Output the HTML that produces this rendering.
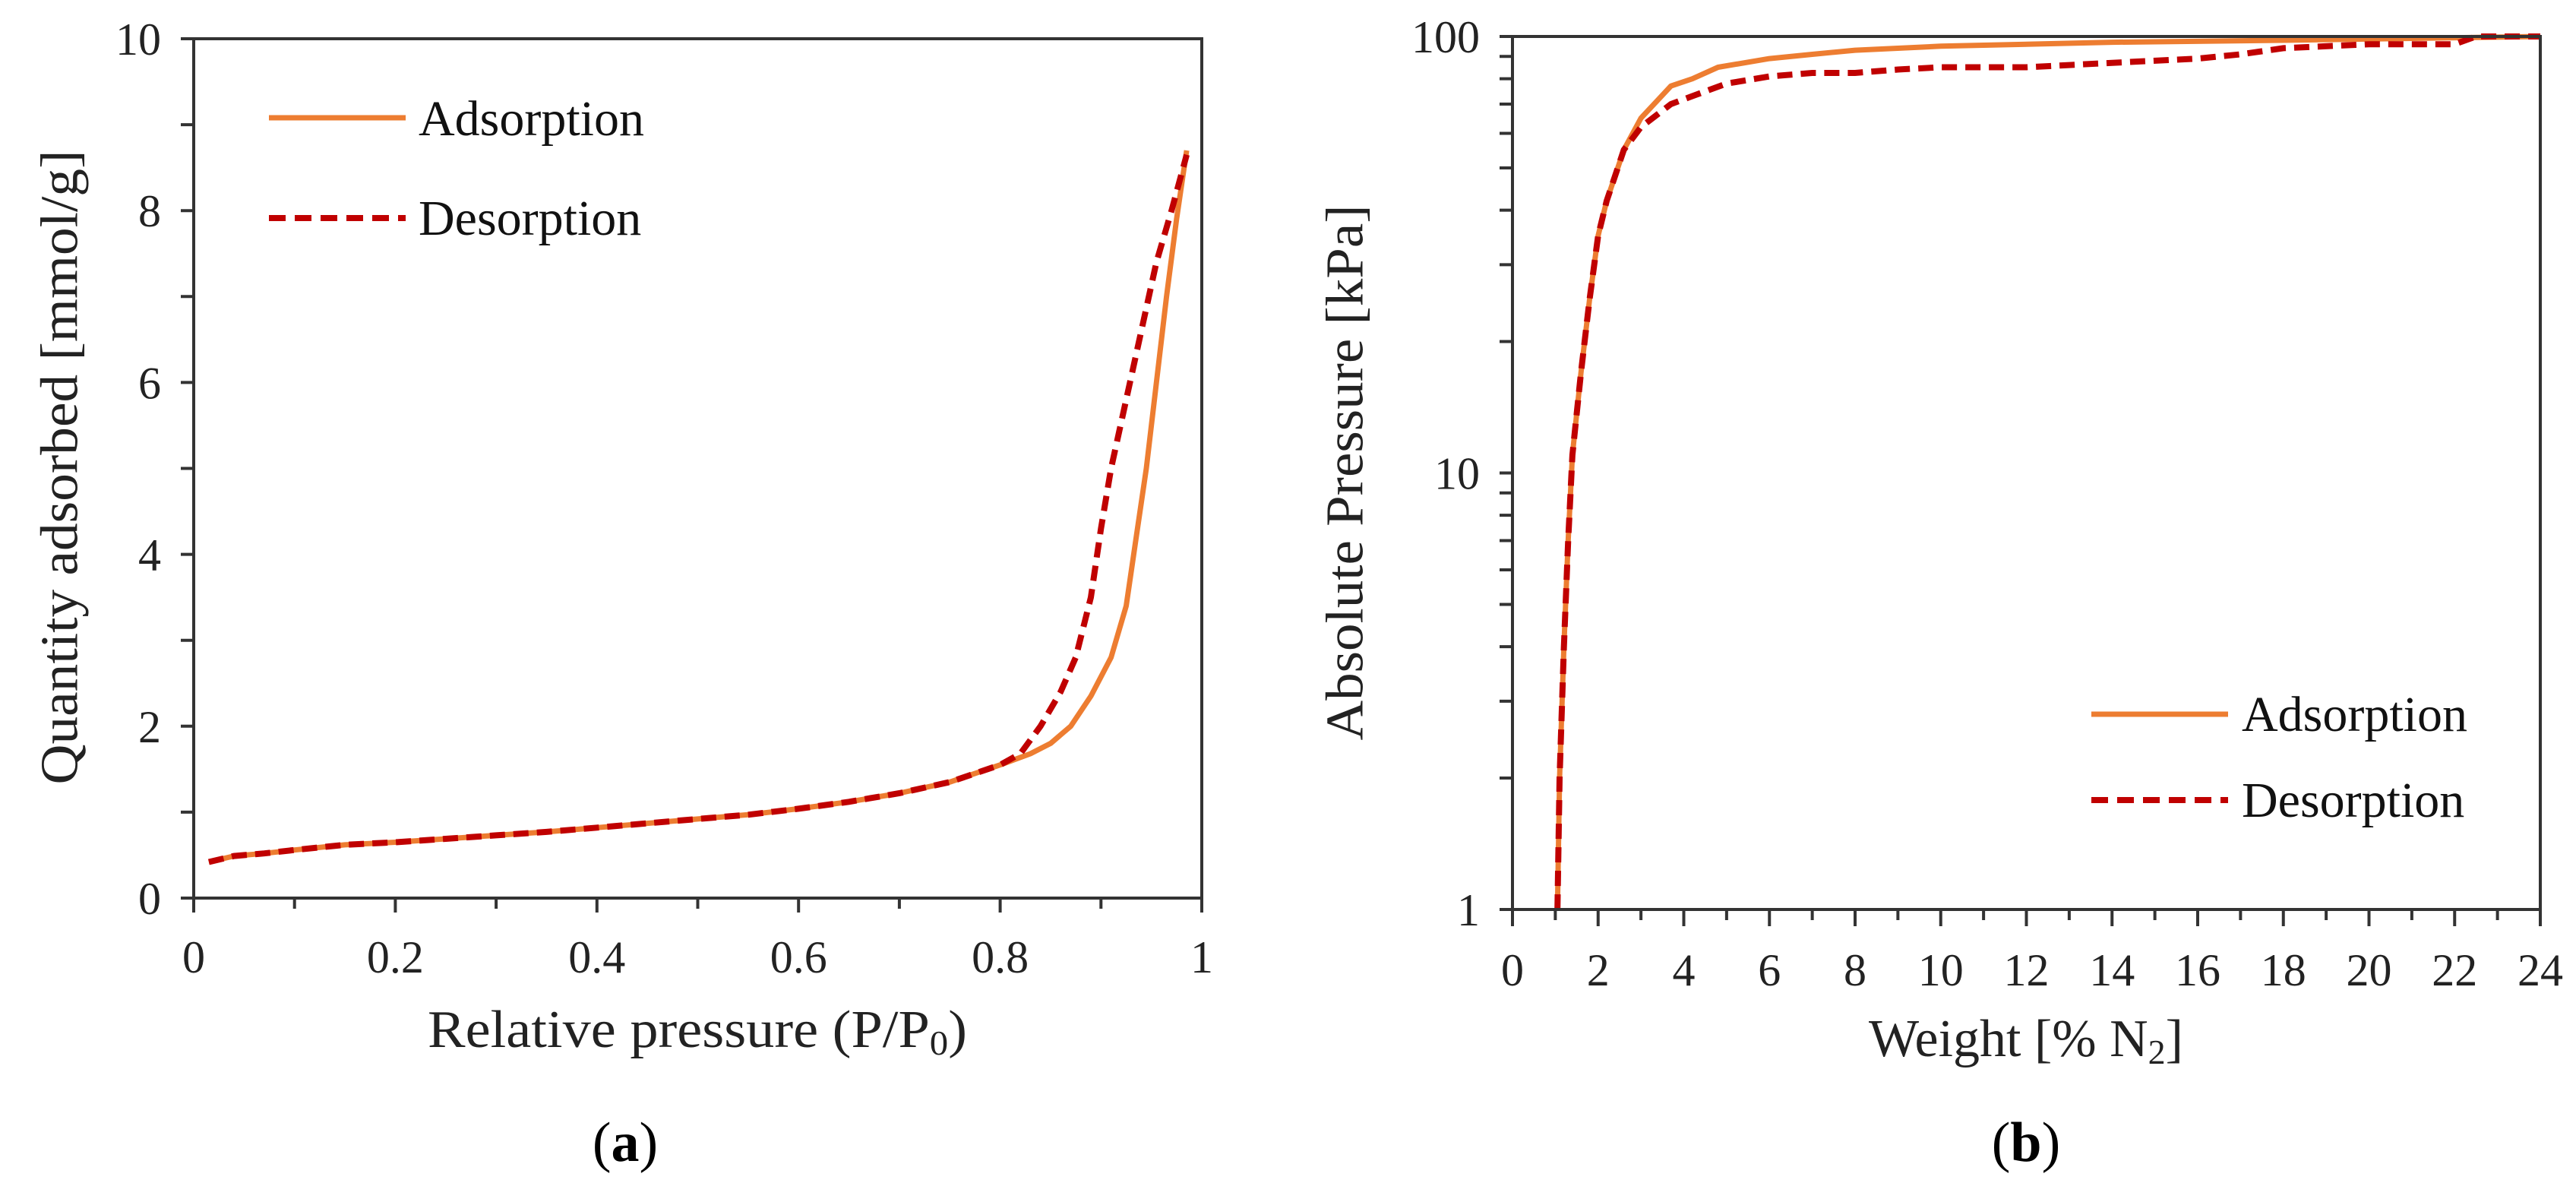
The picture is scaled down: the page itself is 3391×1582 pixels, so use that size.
<!DOCTYPE html>
<html><head><meta charset="utf-8"><style>
html,body{margin:0;padding:0;background:#fff;}
svg{display:block;font-family:"Liberation Serif",serif;}
</style></head><body>
<svg id="fig" width="3391" height="1582" viewBox="0 0 3391 1582" xmlns="http://www.w3.org/2000/svg">
<rect width="3391" height="1582" fill="#fff"/>
<g id="pa"></g>
<g id="pb"></g>
<text x="79" y="615" transform="rotate(-90 79 615)" text-anchor="middle" dominant-baseline="central" font-size="70" textLength="835" lengthAdjust="spacingAndGlyphs" fill="#222">Quantity adsorbed [mmol/g]</text>
<text x="918" y="1378" text-anchor="middle" font-size="70" textLength="710" lengthAdjust="spacingAndGlyphs" fill="#222">Relative pressure (P/P<tspan font-size="46" dy="10">0</tspan><tspan dy="-10">)</tspan></text>
<text x="823" y="1528" text-anchor="middle" font-size="74" fill="#000">(<tspan font-weight="bold">a</tspan>)</text>
<text x="1771" y="622" transform="rotate(-90 1771 622)" text-anchor="middle" dominant-baseline="central" font-size="70" textLength="705" lengthAdjust="spacingAndGlyphs" fill="#222">Absolute Pressure [kPa]</text>
<text x="2667" y="1390" text-anchor="middle" font-size="70" fill="#222">Weight [% N<tspan font-size="46" dy="10">2</tspan><tspan dy="-10">]</tspan></text>
<text x="2667" y="1528" text-anchor="middle" font-size="74" fill="#000">(<tspan font-weight="bold">b</tspan>)</text>
</svg>
<script>
// Panel A data
const aAdsX = [0.015,0.04,0.07,0.1,0.15,0.2,0.25,0.3,0.35,0.4,0.45,0.5,0.55,0.6,0.65,0.7,0.75,0.8,0.83,0.85,0.87,0.89,0.91,0.925,0.935,0.945,0.955,0.965,0.975,0.985];
const aAdsY = [0.42,0.49,0.52,0.56,0.62,0.65,0.69,0.73,0.77,0.82,0.87,0.92,0.97,1.04,1.12,1.22,1.35,1.55,1.68,1.8,2.0,2.35,2.8,3.4,4.2,5.0,6.0,7.0,7.9,8.7];
const aDesX = [0.015,0.04,0.07,0.1,0.15,0.2,0.25,0.3,0.35,0.4,0.45,0.5,0.55,0.6,0.65,0.7,0.75,0.8,0.82,0.84,0.86,0.875,0.89,0.9,0.91,0.925,0.94,0.955,0.97,0.985];
const aDesY = [0.42,0.49,0.52,0.56,0.62,0.65,0.69,0.73,0.77,0.82,0.87,0.92,0.97,1.04,1.12,1.22,1.35,1.55,1.68,2.0,2.4,2.8,3.5,4.3,5.0,5.8,6.6,7.4,8.0,8.65];
const aXTicks = ["0","0.2","0.4","0.6","0.8","1"];
const aYTicks = ["0","2","4","6","8","10"];
// Panel B data
const bAdsX = [1.05,1.1,1.2,1.3,1.4,1.6,1.8,2.0,2.2,2.6,3.0,3.7,4.2,4.8,6,7,8,10,14,18,24];
const bAdsY = [1,2,4,7,11,17,25,35,42,55,65,77,80,85,89,91,93,95,97,98,100];
const bDesX = [1.05,1.1,1.2,1.3,1.4,1.6,1.8,2.0,2.2,2.6,3,3.7,4.2,5,6,7,8,9,10,12,13,14,16,17,18,20,22,22.5,24];
const bDesY = [1,2,4,7,11,17,25,35,42,55,62,70,73,78,81,82.5,82.5,84,85,85,86,87,89,91,94,96,96,100,100];
const bXTicks = ["0","2","4","6","8","10","12","14","16","18","20","22","24"];
const bYTicks = ["1","10","100"];

const NS="http://www.w3.org/2000/svg";
function mk(parent,tag,attrs){const e=document.createElementNS(NS,tag);for(const k in attrs)e.setAttribute(k,attrs[k]);parent.appendChild(e);return e;}
const AX="#333";

// Panel A
const A={l:255,r:1582,t:51,b:1182};
const axX=v=>A.l+v*(A.r-A.l);
const axY=v=>A.b-v/10*(A.b-A.t);
const pa=document.getElementById('pa');
for(let i=0;i<=10;i++){const x=axX(i/10);const t=mk(pa,'line',{x1:x,x2:x,y1:A.b,y2:A.b+(i%2?14:19),stroke:AX,'stroke-width':4});

}
for(let i=0;i<=10;i++){const y=axY(i);const t=mk(pa,'line',{x1:A.l-17,x2:A.l,y1:y,y2:y,stroke:AX,'stroke-width':4});

}
aXTicks.forEach((s,i)=>{const t=mk(pa,'text',{x:axX(parseFloat(s)),y:1280,'text-anchor':'middle','font-size':60,fill:'#222'});t.textContent=s;

});
aYTicks.forEach(s=>{const t=mk(pa,'text',{x:A.l-43,y:axY(parseFloat(s))+21,'text-anchor':'end','font-size':60,fill:'#222'});t.textContent=s;

});
function pts(xs,ys,fx,fy){return xs.map((x,i)=>fx(x).toFixed(1)+','+fy(ys[i]).toFixed(1)).join(' ');}
const la=mk(pa,'polyline',{points:pts(aAdsX,aAdsY,axX,axY),fill:'none',stroke:'#ED7D31','stroke-width':7,'stroke-linejoin':'round'});


const ld=mk(pa,'polyline',{points:pts(aDesX,aDesY,axX,axY),fill:'none',stroke:'#C00000','stroke-width':8,'stroke-dasharray':'20 11'});


const fa=mk(pa,'rect',{x:A.l,y:A.t,width:A.r-A.l,height:A.b-A.t,fill:'none',stroke:AX,'stroke-width':4});


// legend A
const lg1=mk(pa,'line',{x1:354,x2:534,y1:155,y2:155,stroke:'#ED7D31','stroke-width':7});


const lt1=mk(pa,'text',{x:551,y:178,'font-size':66,fill:'#111'});lt1.textContent='Adsorption';


const lg2=mk(pa,'line',{x1:354,x2:534,y1:287,y2:287,stroke:'#C00000','stroke-width':8,'stroke-dasharray':'22 12'});


const lt2=mk(pa,'text',{x:551,y:309,'font-size':66,fill:'#111'});lt2.textContent='Desorption';



// Panel B
const B={l:1991,r:3344,t:48,b:1197};
const bxX=v=>B.l+v/24*(B.r-B.l);
const byY=v=>B.b-Math.log10(v)/2*(B.b-B.t);
const pb=document.getElementById('pb');
for(let i=0;i<=24;i++){const x=bxX(i);const t=mk(pb,'line',{x1:x,x2:x,y1:B.b,y2:B.b+(i%2?14:22),stroke:AX,'stroke-width':4});

}
for(let d=0;d<2;d++){for(let m=1;m<=10;m++){const y=byY(Math.pow(10,d)*m);const t=mk(pb,'line',{x1:B.l-17,x2:B.l,y1:y,y2:y,stroke:AX,'stroke-width':4});

}}
bXTicks.forEach(s=>{const t=mk(pb,'text',{x:bxX(parseFloat(s)),y:1297,'text-anchor':'middle','font-size':60,fill:'#222'});t.textContent=s;

});
bYTicks.forEach(s=>{const t=mk(pb,'text',{x:B.l-43,y:byY(parseFloat(s))+21,'text-anchor':'end','font-size':60,fill:'#222'});t.textContent=s;

});
const lb=mk(pb,'polyline',{points:pts(bAdsX,bAdsY,bxX,byY),fill:'none',stroke:'#ED7D31','stroke-width':7,'stroke-linejoin':'round'});


const ldb=mk(pb,'polyline',{points:pts(bDesX,bDesY,bxX,byY),fill:'none',stroke:'#C00000','stroke-width':8,'stroke-dasharray':'20 11'});


const fb=mk(pb,'rect',{x:B.l,y:B.t,width:B.r-B.l,height:B.b-B.t,fill:'none',stroke:AX,'stroke-width':4});


const lg3=mk(pb,'line',{x1:2753,x2:2933,y1:940,y2:940,stroke:'#ED7D31','stroke-width':7});


const lt3=mk(pb,'text',{x:2951,y:962,'font-size':66,fill:'#111'});lt3.textContent='Adsorption';


const lg4=mk(pb,'line',{x1:2753,x2:2933,y1:1053,y2:1053,stroke:'#C00000','stroke-width':8,'stroke-dasharray':'22 12'});


const lt4=mk(pb,'text',{x:2951,y:1075,'font-size':66,fill:'#111'});lt4.textContent='Desorption';


</script>
</body></html>
